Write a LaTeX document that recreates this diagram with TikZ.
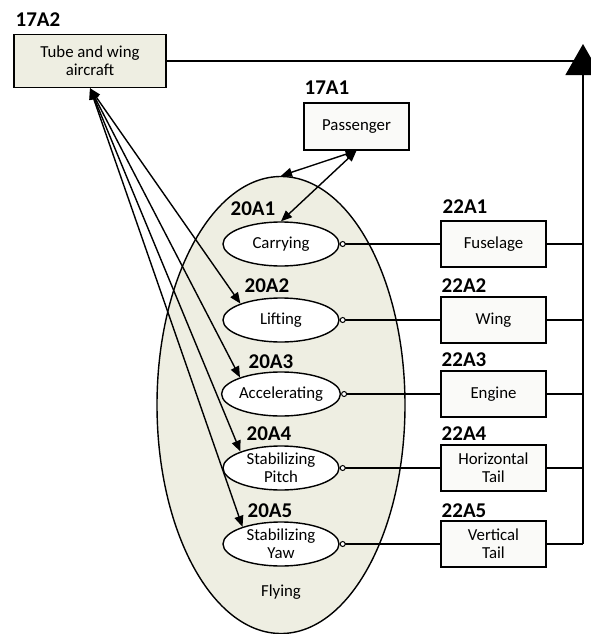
\documentclass[tikz,border=0pt]{standalone}
\usepackage{fontspec}
\setmainfont{Carlito}
\usetikzlibrary{arrows.meta,shapes.geometric}
\definecolor{flyfill}{RGB}{238,238,226}
\definecolor{boxfill}{RGB}{250,250,248}

\begin{document}
\begin{tikzpicture}[x=1pt, y=-1pt, line width=1.4pt,
    every node/.style={font=\fontsize{16.8}{18}\selectfont},
    part/.style={rectangle, draw, fill=boxfill, minimum width=105pt, minimum height=46pt, align=center, inner sep=1pt},
    func/.style={ellipse, draw, fill=white, minimum width=116pt, minimum height=44pt, align=center, inner xsep=0pt, inner ysep=-3pt},
    tag/.style={anchor=base west, inner sep=0pt, font=\fontsize{21}{24}\selectfont\bfseries},
    link/.style={{Triangle[length=11pt,width=9pt]}-{Triangle[length=11pt,width=9pt]}},
    port/.style={{Circle[fill=white,length=6pt,line width=1pt]}-}]
   \useasboundingbox (0,0) rectangle (590,634);
   \node[ellipse, draw, fill=flyfill, minimum width=248pt, minimum height=457pt] (flying) at (281,405) {};
   \node (flytext) at (281,592) {Flying};

   \node[rectangle, draw, fill=flyfill, minimum width=152pt, minimum height=53pt, align=center] (aircraft) at (90,61) {Tube and wing\\aircraft};
   \node[part, minimum height=47pt] (pass) at (356.5,126.5) {Passenger};

   \node[func] (carry) at (281,244) {Carrying};
   \node[func] (lift) at (281,320) {Lifting};
   \node[func] (accel) at (281,394) {Accelerating};
   \node[func] (pitch) at (281,468) {Stabilizing\\Pitch};
   \node[func] (yaw) at (281,544) {Stabilizing\\Yaw};

   \node[part] (fuse) at (493.5,244) {Fuselage};
   \node[part] (wing) at (493.5,320) {Wing};
   \node[part] (engine) at (493.5,394) {Engine};
   \node[part] (htail) at (493.5,468) {Horizontal\\Tail};
   \node[part] (vtail) at (493.5,544) {Vertical\\Tail};

   \node[tag] (t17a2) at (15,27) {17A2};
   \node[tag] (t17a1) at (304,94) {17A1};
   \node[tag] (t20a1) at (230,215) {20A1};
   \node[tag] (t20a2) at (244,292) {20A2};
   \node[tag] (t20a3) at (248,368) {20A3};
   \node[tag] (t20a4) at (246,440) {20A4};
   \node[tag] (t20a5) at (247,517) {20A5};
   \node[tag] (t22a1) at (442,213) {22A1};
   \node[tag] (t22a2) at (441,292) {22A2};
   \node[tag] (t22a3) at (441,366) {22A3};
   \node[tag] (t22a4) at (441,440) {22A4};
   \node[tag] (t22a5) at (441,517) {22A5};

   \coordinate (bustop) at (583,44);
   \coordinate (bus1) at (583,244);
   \coordinate (bus2) at (583,320);
   \coordinate (bus3) at (583,394);
   \coordinate (bus4) at (583,468);
   \coordinate (bus5) at (583,544);

   \draw[link] (pass.south) to (flying.north);
   \draw[link] (pass.south) to (carry.north);
   \draw[link] (aircraft.south) to (lift.158);
   \draw[link] (aircraft.south) to (accel.158);
   \draw[link] (aircraft.south) to (pitch.158);
   \draw[link] (aircraft.south) to (yaw.156);

   \draw[port] (carry.east) to (fuse.west);
   \draw[port] (lift.east) to (wing.west);
   \draw[port] (accel.east) to (engine.west);
   \draw[port] (pitch.east) to (htail.west);
   \draw[port] (yaw.east) to (vtail.west);

   \draw (fuse.east) to (bus1);
   \draw (wing.east) to (bus2);
   \draw (engine.east) to (bus3);
   \draw (htail.east) to (bus4);
   \draw (vtail.east) to (bus5);
   \draw (aircraft.east) to (aircraft.east -| bustop);
   \draw[-{Triangle[length=31pt,width=35pt]}] (bus5) to (bustop);
 \end{tikzpicture}
\end{document}
